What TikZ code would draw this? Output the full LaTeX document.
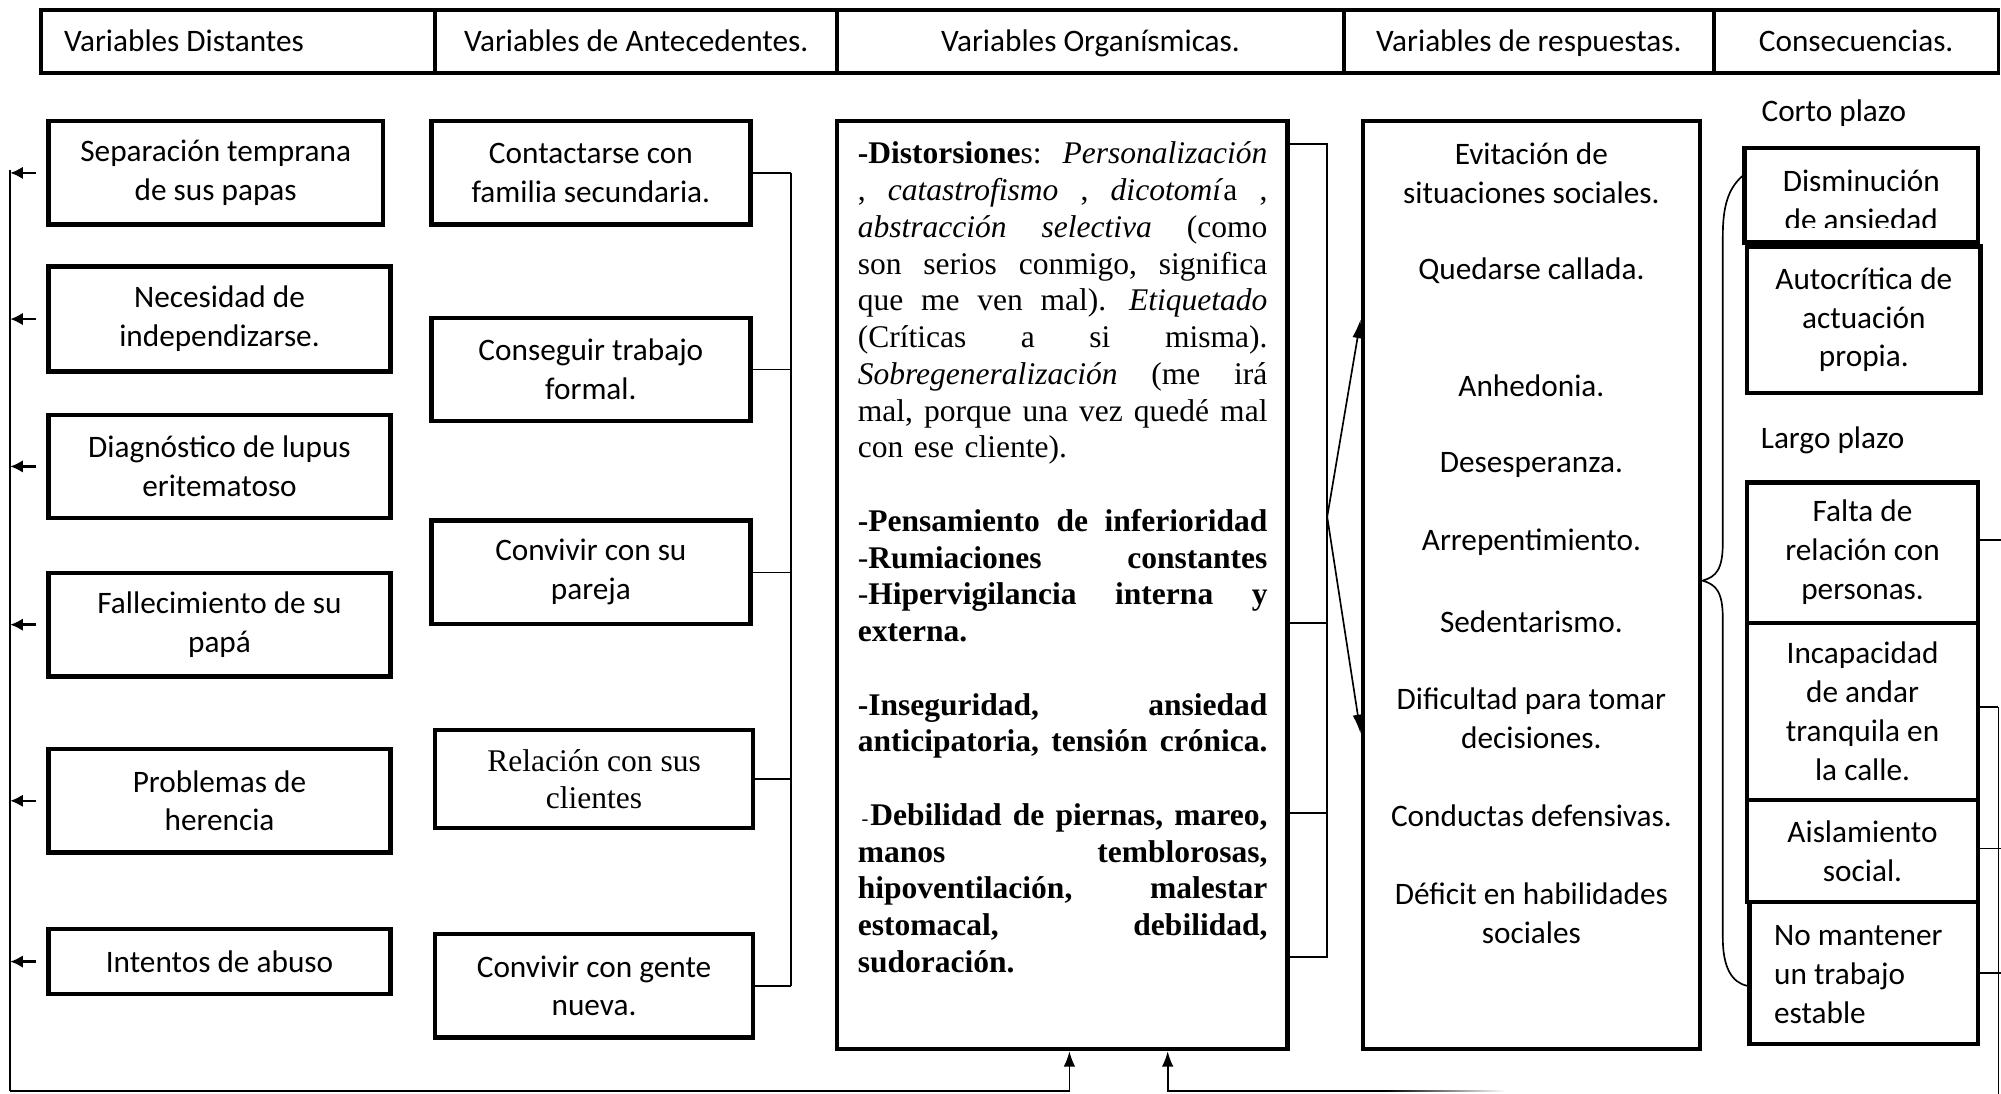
\documentclass[tikz,border=0pt]{standalone}
\usepackage{fontspec}
\setmainfont{Carlito}
\newfontfamily\tnr{Liberation Serif}
\usetikzlibrary{arrows.meta}
\newcommand\calfont{\fontsize{24.5}{30.5}\selectfont}
\newcommand\tmsfont{\tnr\fontsize{24.7}{28.8}\selectfont}
\newcommand\jline[1]{\leavevmode\hbox to 321pt{#1}}
\begin{document}
\begin{tikzpicture}[x=1pt,y=-1pt,
  hdr/.style={draw, line width=3pt, minimum height=49pt, inner sep=0pt, font=\calfont, text height=20pt, text depth=4pt},
  box/.style={draw, line width=3.5pt, inner sep=0pt, align=center, font=\calfont, fill=white},
  txt/.style={inner sep=0pt, align=center, font=\calfont},
  conn/.style={line width=1.3pt},
  larr/.style={line width=2pt, -{Latex[length=10pt,width=10pt]}},
  uarr/.style={line width=1.3pt, -{Latex[length=12pt,width=9pt]}},
  farr/.style={line width=1.3pt, -{Latex[length=15pt,width=8pt]}}]
\useasboundingbox (0,0) rectangle (1568,857);
\fill[white] (0,0) rectangle (1568,857);

% header
\node[hdr, minimum width=309pt] (h1) at (186.5,32.5) {};
\node[txt, anchor=west, text height=20pt, text depth=4pt] (h1t) at (50,32.5) {Variables Distantes};
\node[hdr, minimum width=315pt] (h2) at (498.5,32.5) {Variables de Antecedentes.};
\node[hdr, minimum width=397pt] (h3) at (854.5,32.5) {Variables Organísmicas.};
\node[hdr, minimum width=290pt] (h4) at (1198,32.5) {Variables de respuestas.};
\node[hdr, minimum width=223pt] (h5) at (1454.5,32.5) {Consecuencias.};

% distant variables
\node[box, minimum width=262pt, minimum height=81pt] (d1) at (169,135.5) {Separación temprana\\de sus papas};
\node[box, minimum width=268pt, minimum height=82pt] (d2) at (172,250) {Necesidad de\\independizarse.};
\node[box, minimum width=268pt, minimum height=81pt] (d3) at (172,365.5) {Diagnóstico de lupus\\eritematoso};
\node[box, minimum width=268pt, minimum height=81pt] (d4) at (172,489.5) {Fallecimiento de su\\papá};
\node[box, minimum width=268pt, minimum height=81pt] (d5) at (172,627.5) {Problemas de\\herencia};
\node[box, minimum width=268pt, minimum height=51pt] (d6) at (172,753.5) {Intentos de abuso};

% antecedents
\node[box, minimum width=250pt, minimum height=81pt] (a1) at (463,135.5) {Contactarse con\\familia secundaria.};
\node[box, minimum width=250pt, minimum height=81pt] (a2) at (463,289.5) {Conseguir trabajo\\formal.};
\node[box, minimum width=250pt, minimum height=81pt] (a3) at (463,448.5) {Convivir con su\\pareja};
\node[box, minimum width=249pt, minimum height=77pt, font=\tmsfont] (a4) at (465.5,610.5) {Relación con sus\\clientes};
\node[box, minimum width=249pt, minimum height=81pt] (a5) at (465.5,772.5) {Convivir con gente\\nueva.};

% organismic
\node[box, minimum width=353pt, minimum height=727pt] (org) at (832.5,458.5) {};
\node[anchor=north west, inner sep=0pt, text width=321pt, align=left, font=\tmsfont] (orgtxt) at (672,111) {%
\jline{\textbf{-Distorsione}s: \hfill\textit{Personalización}}\\
\jline{, \hfill\textit{catastrofismo} \hfill, \hfill\textit{dicotomí}a \hfill,}\\
\jline{\textit{abstracción} \hfill\textit{selectiva} \hfill(como}\\
\jline{son \hfill serios \hfill conmigo, \hfill significa}\\
\jline{que \hfill me \hfill ven \hfill mal). \hfill\textit{Etiquetado}}\\
\jline{(Críticas \hfill a \hfill si \hfill misma).}\\
\jline{\textit{Sobregeneralización} \hfill(me \hfill irá}\\
\jline{mal, \hfill porque \hfill una \hfill vez \hfill quedé \hfill mal}\\
con ese cliente).\\[28.8pt]
\jline{\textbf{-Pensamiento \hfill de \hfill inferioridad}}\\
\jline{-\textbf{Rumiaciones \hfill constantes}}\\
\jline{-\textbf{Hipervigilancia \hfill interna \hfill y}}\\
\textbf{externa.}\\[28.8pt]
\jline{\textbf{-Inseguridad, \hfill ansiedad}}\\
\jline{\textbf{anticipatoria, \hfill tensión \hfill crónica.}}\\[28.8pt]
\jline{\hspace*{3pt}{\fontsize{16}{16}\selectfont-}\hspace*{1.5pt}\textbf{Debilidad \hfill de \hfill piernas, \hfill mareo,}}\\
\jline{\textbf{manos \hfill temblorosas,}}\\
\jline{\textbf{hipoventilación, \hfill malestar}}\\
\jline{\textbf{estomacal, \hfill debilidad,}}\\
\textbf{sudoración.}};

% responses
\node[box, minimum width=264pt, minimum height=727pt] (resp) at (1200,458.5) {};
\node[txt] (r1) at (1200,136) {Evitación de\\situaciones sociales.};
\node[txt] (r2) at (1200,212) {Quedarse callada.};
\node[txt] (r3) at (1200,302) {Anhedonia.};
\node[txt] (r4) at (1200,364) {Desesperanza.};
\node[txt] (r5) at (1200,425) {Arrepentimiento.};
\node[txt] (r6) at (1200,487) {Sedentarismo.};
\node[txt] (r7) at (1200,563) {Dificultad para tomar\\decisiones.};
\node[txt] (r8) at (1200,639) {Conductas defensivas.};
\node[txt] (r9) at (1200,715.5) {Déficit en habilidades\\sociales};

% consequences
\node[txt] (corto) at (1437,89) {Corto plazo};
\node[txt] (largo) at (1436,345) {Largo plazo};
\node[box, minimum width=183pt, minimum height=74pt] (c1) at (1458.5,153) {};
\begin{scope}
\clip (1369,118) rectangle (1548,178);
\node[txt] (c1t) at (1458.5,157) {Disminución\\de ansiedad};
\end{scope}
\node[box, minimum width=183pt, minimum height=115pt] (c2) at (1460.5,250.5) {Autocrítica de\\actuación\\propia.};
\node[box, minimum width=181pt, minimum height=110pt] (l1) at (1459.5,433) {Falta de\\relación con\\personas.};
\node[box, minimum width=181pt, minimum height=139pt] (l2) at (1459.5,557.5) {Incapacidad\\de andar\\tranquila en\\la calle.};
\node[box, minimum width=181pt, minimum height=80pt] (l3) at (1459.5,667) {Aislamiento\\social.};
\node[box, minimum width=179pt, minimum height=111pt] (l4) at (1460.5,762.5) {};
\node[txt, align=left, anchor=west] (l4t) at (1390,764) {No mantener\\un trabajo\\estable};

% left connectors
\coordinate (lvt) at (8,133);
\coordinate (lvb) at (8,855);
\foreach \n in {d1,d2,d3,d4,d5,d6}
  \draw[larr] ([xshift=-8pt]\n.west) -- (\n.west -| lvt);
\draw[conn] (lvt) -- (lvb);
\draw[uarr] (lvb) -| ([xshift=5.5pt]org.south);

% antecedent bracket
\coordinate (abx) at (620,0);
\foreach \n in {a1,a2,a3,a4,a5}
  \draw[conn] (\n.east) -- (\n.east -| abx);
\draw[conn] (a1.east -| abx) -- (a5.east -| abx);

% organismic bracket and fork
\coordinate (ot) at (1040,113);
\coordinate (om1) at (1040,488);
\coordinate (om2) at (1040,637);
\coordinate (ob) at (1040,750);
\draw[conn] (org.east |- ot) -- (ot) -- (ob) -- (org.east |- ob);
\draw[conn] (org.east |- om1) -- (om1);
\draw[conn] (org.east |- om2) -- (om2);
\coordinate (fork) at (1040,405);
\coordinate (fu) at (1068,250);
\coordinate (fd) at (1068,575);
\draw[farr] (fork) -- (resp.west |- fu);
\draw[farr] (fork) -- (resp.west |- fd);

% brace to consequences
\draw[conn] ([yshift=15pt]c1.west) .. controls (1354,148) and (1350,162) .. (1350,185)
  -- (1350,425) .. controls (1350,446) and (1345,452) .. (1334,455)
  .. controls (1345,458) and (1350,464) .. (1350,485)
  -- (1350,735) .. controls (1350,758) and (1357,770) .. ([yshift=-10pt]l4.west);

% right connectors
\coordinate (rvt) at (1566,554);
\coordinate (rvb) at (1566,857);
\draw[conn] ([yshift=10pt]l1.east) -- ++(18,0);
\draw[conn] ([yshift=3.5pt]l2.east) -- (rvt);
\draw[conn] ([yshift=2pt]l3.east) -- ++(18,0);
\draw[conn] (l4.east) -- ++(18,0);
\draw[conn] (rvt) -- (rvb);

% bottom right return
\coordinate (fadeL) at (1085,855);
\draw[uarr] (fadeL) -| ([xshift=82.5pt]org.south);
\shade[left color=black, right color=white] (1085,854.35) rectangle (1180,855.65);
\end{tikzpicture}
\end{document}
